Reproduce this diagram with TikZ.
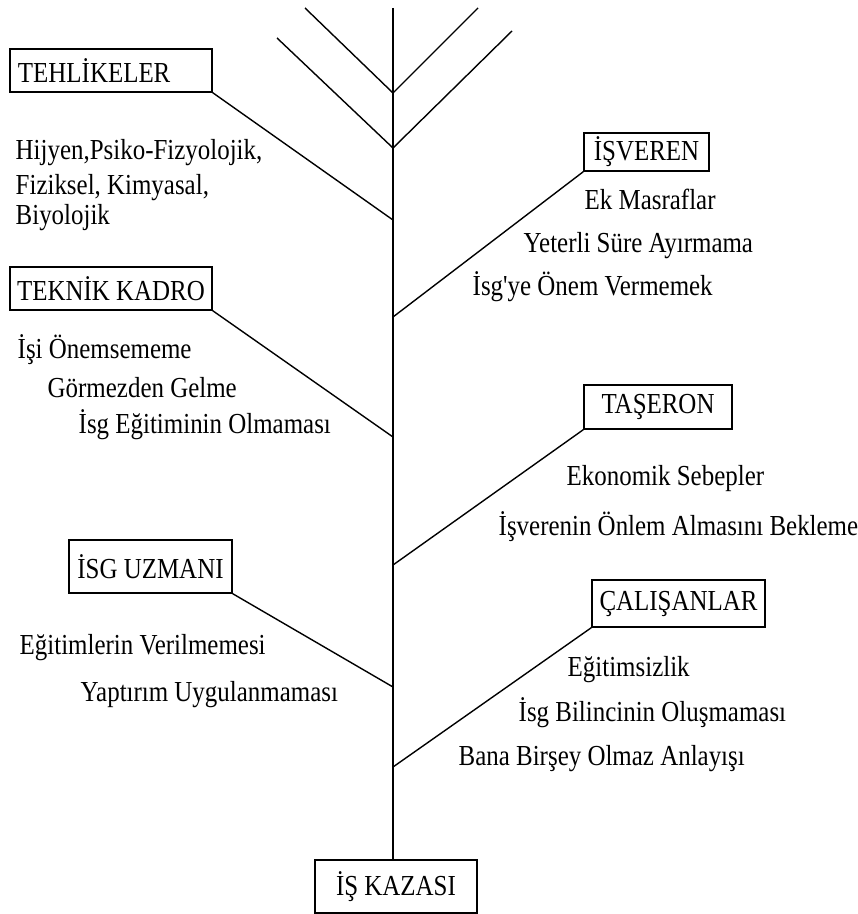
\documentclass[tikz,border=0pt]{standalone}
\usepackage{fontspec}
\setmainfont{Liberation Serif}[FakeStretch=0.86, Ligatures=TeXOff]
\usetikzlibrary{positioning}

\begin{document}
\begin{tikzpicture}[x=0.5pt, y=-0.5pt, line width=0.7pt, font=\fontsize{14.5}{17}\selectfont]
                \tikzstyle{block} = [draw, rectangle, inner sep=0pt]
                \tikzstyle{cause} = [anchor=base west, inner sep=0pt]
                \useasboundingbox (0,0) rectangle (857,914);

                \node [block, minimum width=101pt, minimum height=21.5pt, text width=93pt, align=left] (tehlike) at (111,70.5) {TEHLİKELER};
                \node [block, minimum width=101pt, minimum height=21.5pt] (teknik) at (111,288.5) {TEKNİK KADRO};
                \node [block, minimum width=62.5pt, minimum height=19pt] (isveren) at (646.5,152) {İŞVEREN};
                \node [block, minimum width=74pt, minimum height=22pt] (taseron) at (658,407) {TAŞERON};
                \node [block, minimum width=81.5pt, minimum height=26.5pt] (uzman) at (150.5,566.5) {İSG UZMANI};
                \node [block, minimum width=86.5pt, minimum height=23.5pt] (calisan) at (678.5,603.5) {ÇALIŞANLAR};
                \node [block, minimum width=81pt, minimum height=26.5pt] (kaza) at (396,886.5) {İŞ KAZASI};

                \node [cause] (hijyen) at (15,160) {Hijyen,Psiko-Fizyolojik,};
                \node [cause] (fiziksel) at (15,195) {Fiziksel, Kimyasal,};
                \node [cause] (biyolojik) at (15,225) {Biyolojik};
                \node [cause] (onemseme) at (17,358) {İşi Önemsememe};
                \node [cause] (gormezden) at (47,397) {Görmezden Gelme};
                \node [cause] (egitimyok) at (78,433) {İsg Eğitiminin Olmaması};
                \node [cause] (masraf) at (584,210) {Ek Masraflar};
                \node [cause] (sure) at (523,253) {Yeterli Süre Ayırmama};
                \node [cause] (onemvermeme) at (472,296) {İsg'ye Önem Vermemek};
                \node [cause] (ekonomik) at (566,485) {Ekonomik Sebepler};
                \node [cause] (bekleme) at (498,535) {İşverenin Önlem Almasını Bekleme};
                \node [cause] (verilmeme) at (19,654) {Eğitimlerin Verilmemesi};
                \node [cause] (yaptirim) at (80,701) {Yaptırım Uygulanmaması};
                \node [cause] (egitimsiz) at (567,676) {Eğitimsizlik};
                \node [cause] (bilinc) at (518,721) {İsg Bilincinin Oluşmaması};
                \node [cause] (anlayis) at (458,765) {Bana Birşey Olmaz Anlayışı};

                % trunk and joints
                \coordinate (top) at (393,8);
                \coordinate (j1) at (393,93);
                \coordinate (j2) at (393,148);
                \coordinate (j3) at (393,220);
                \coordinate (j4) at (393,317);
                \coordinate (j5) at (393,437);
                \coordinate (j6) at (393,565);
                \coordinate (j7) at (393,687);
                \coordinate (j8) at (393,767);
                \coordinate (v1l) at (305,8);
                \coordinate (v1r) at (478,8);
                \coordinate (v2l) at (277,38);
                \coordinate (v2r) at (512,31);

                \draw (top) -- (top |- kaza.north);
                \draw (v1l) -- (j1) -- (v1r);
                \draw (v2l) -- (j2) -- (v2r);
                \draw (tehlike.south east) -- (j3);
                \draw (isveren.south west) -- (j4);
                \draw (teknik.south east) -- (j5);
                \draw (taseron.south west) -- (j6);
                \draw (uzman.south east) -- (j7);
                \draw (calisan.south west) -- (j8);
\end{tikzpicture}
\end{document}
